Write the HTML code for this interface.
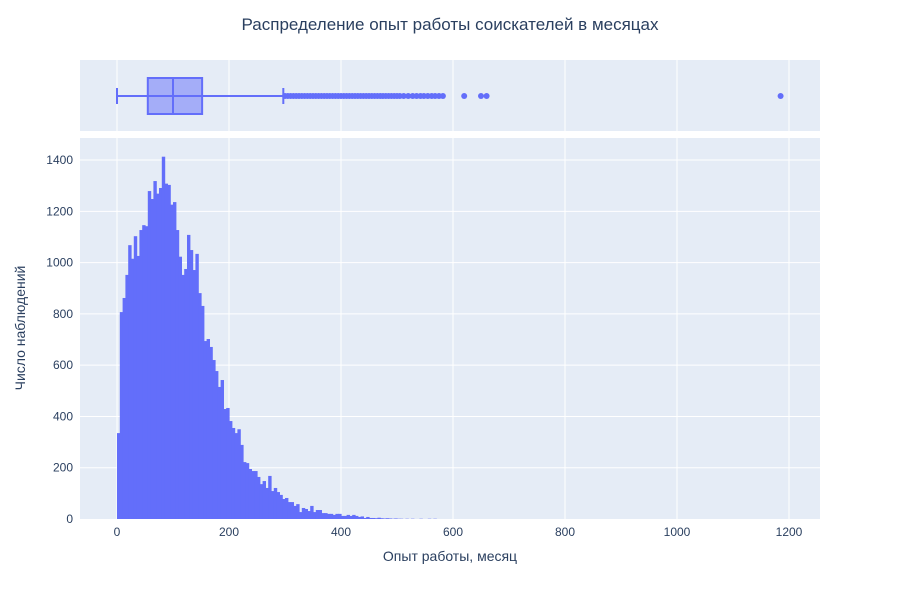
<!DOCTYPE html>
<html><head><meta charset="utf-8"><style>
body{margin:0;background:#fff;font-family:"Liberation Sans",sans-serif}
text{font-family:"Liberation Sans",sans-serif}
</style></head><body>
<svg id="c" width="900" height="600" xmlns="http://www.w3.org/2000/svg">
<text x="450" y="30" text-anchor="middle" font-size="17" fill="#2a3f5f">Распределение опыт работы соискателей в месяцах</text>
<rect x="80" y="60" width="740" height="71" fill="#e5ecf6"/>
<rect x="80" y="138" width="740" height="381" fill="#e5ecf6"/>
<g id="grid"></g><g id="hist"></g><g id="box"></g><g id="axes"></g>
<text x="450" y="561" text-anchor="middle" font-size="14" fill="#2a3f5f">Опыт работы, месяц</text>
<text x="25" y="328" text-anchor="middle" font-size="14" fill="#2a3f5f" transform="rotate(-90 25 328)">Число наблюдений</text>
</svg>
<script>
const binWidth = 5;
const counts = [335,807,862,952,1068,1015,1103,1026,1127,1146,1142,1279,1248,1318,1269,1291,1413,1308,1303,1226,1236,1127,1023,952,975,1108,1049,971,1034,881,831,694,702,671,620,577,515,542,429,433,382,355,335,350,289,222,218,195,187,187,164,136,148,121,168,109,121,105,94,78,82,66,66,51,58,27,43,39,31,51,27,35,35,23,23,20,20,16,20,20,12,12,16,12,16,12,8,10,4,8,4,4,3,5,3,2,3,2,1,2,1,1,0,1,0,1,0,0,1,0,0,1,0,1];
const xTicks = [0,200,400,600,800,1000,1200];
const yTicks = [0,200,400,600,800,1000,1200,1400];
const boxStats = {min:0, q1:55, median:100, q3:152, max:297};
const outliers = [300,305,310,315,320,325,330,335,340,345,350,355,360,365,370,375,380,385,390,395,400,405,410,415,420,425,430,435,440,445,450,455,460,465,470,475,480,485,490,495,500,505,512,520,528,535,542,548,555,562,568,575,582,620,650,660,1185];
const NS="http://www.w3.org/2000/svg";
const xs=v=>117+v*0.56, ys=v=>519-v*0.2564;
function mk(tag,attrs,parent){const e=document.createElementNS(NS,tag);for(const k in attrs)e.setAttribute(k,attrs[k]);document.getElementById(parent).appendChild(e);return e;}
yTicks.forEach(t=>{
  if(t>0){const l=mk('line',{x1:80,x2:820,y1:ys(t),y2:ys(t),stroke:'#fff','stroke-width':1},'grid');
  
  }
  const tx=mk('text',{x:73,y:ys(t)+4,'text-anchor':'end','font-size':12,fill:'#2a3f5f'},'axes');tx.textContent=t;
  
  
});
xTicks.forEach(t=>{
  const l=mk('line',{x1:xs(t),x2:xs(t),y1:60,y2:131,stroke:'#fff','stroke-width':1},'grid');
  
  
  const l2=mk('line',{x1:xs(t),x2:xs(t),y1:138,y2:519,stroke:'#fff','stroke-width':1},'grid');
  
  
  const tx=mk('text',{x:xs(t),y:536,'text-anchor':'middle','font-size':12,fill:'#2a3f5f'},'axes');tx.textContent=t;
  
  
});
counts.forEach((c,i)=>{
  if(c<=0)return;
  const r=mk('rect',{x:xs(i*binWidth),y:ys(c),width:xs(binWidth)-xs(0)+0.6,height:519-ys(c),fill:'#636efa'},'hist');
  
  
});
const cy=96;
const w=mk('line',{x1:xs(boxStats.min),x2:xs(boxStats.max),y1:cy,y2:cy,stroke:'#636efa','stroke-width':2},'box');


[boxStats.min,boxStats.max].forEach(v=>{const e=mk('line',{x1:xs(v),x2:xs(v),y1:88,y2:104,stroke:'#636efa','stroke-width':2},'box');

});
const b=mk('rect',{x:xs(boxStats.q1),y:78,width:xs(boxStats.q3)-xs(boxStats.q1),height:36,fill:'rgba(99,110,250,0.5)',stroke:'#636efa','stroke-width':2},'box');


const m=mk('line',{x1:xs(boxStats.median),x2:xs(boxStats.median),y1:78,y2:114,stroke:'#636efa','stroke-width':2},'box');


outliers.forEach(v=>{const c=mk('circle',{cx:xs(v),cy:cy,r:3,fill:'#636efa'},'box');

});
</script>
</body></html>
